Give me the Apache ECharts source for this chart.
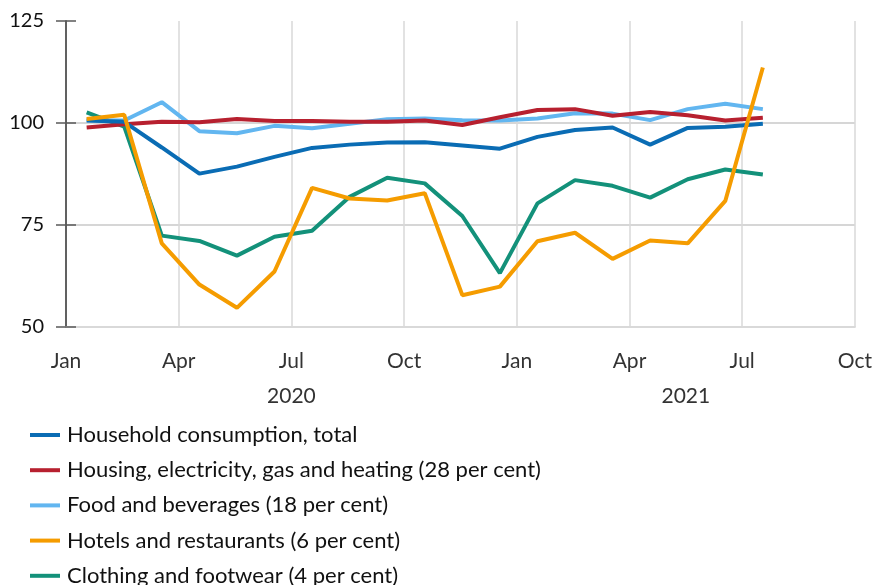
<!DOCTYPE html>
<html>
<head>
<meta charset="utf-8">
<script src="https://cdn.jsdelivr.net/npm/echarts@6/dist/echarts.min.js"></script>
<style>
html,body{margin:0;padding:0;background:#fff;}
#chart{width:875px;height:585px;}
</style>
</head>
<body>
<div id="chart"></div>
<script>
// Monthly observations (index)
var months = ['2020-01','2020-02','2020-03','2020-04','2020-05','2020-06','2020-07','2020-08','2020-09','2020-10','2020-11','2020-12',
              '2021-01','2021-02','2021-03','2021-04','2021-05','2021-06','2021-07'];
var total    = [100.6,100.3,94.0,87.6,89.3,91.7,93.9,94.7,95.2,95.3,94.5,93.7,96.6,98.3,98.9,94.7,98.8,99.1,99.8];
var housing  = [98.9,99.7,100.3,100.2,101.0,100.5,100.5,100.3,100.3,100.6,99.5,101.4,103.2,103.4,101.8,102.7,101.9,100.6,101.3];
var food     = [100.7,100.6,105.1,98.0,97.5,99.3,98.7,99.8,100.9,101.1,100.7,100.6,101.1,102.4,102.3,100.7,103.4,104.7,103.4];
var hotels   = [101.0,102.0,70.5,60.4,54.7,63.6,84.1,81.5,81.0,82.8,57.8,59.9,71.0,73.1,66.7,71.2,70.5,80.9,113.6];
var clothing = [102.6,99.1,72.4,71.1,67.5,72.1,73.6,81.9,86.6,85.2,77.2,63.2,80.3,86.0,84.6,81.7,86.2,88.6,87.4];

var monthNames = ['Jan','Feb','Mar','Apr','May','Jun','Jul','Aug','Sep','Oct','Nov','Dec'];
var yTicks = [50, 75, 100, 125];
var yearLabels = ['2020', '2021'];
var names = ['Household consumption, total','Housing, electricity, gas and heating (28 per cent)','Food and beverages (18 per cent)','Hotels and restaurants (6 per cent)','Clothing and footwear (4 per cent)'];

// months since Jan 2020, observation placed mid-month
function mpos(s){ var p = s.split('-'); return (parseInt(p[0],10)-2020)*12 + parseInt(p[1],10)-1 + 0.55; }
function pairs(arr){ return months.map(function(m,i){ return [mpos(m), arr[i]]; }); }

var FONT = 'Lato';
var chart = echarts.init(document.getElementById('chart'), null, {renderer:'canvas'});
function line(name, arr, color){
  return {name:name, type:'line', data:pairs(arr), showSymbol:false, symbol:'none',
          lineStyle:{width:4, color:color}, itemStyle:{color:color}, animation:false};
}
var legendBase = {
  orient:'vertical', left:30, padding:0, itemWidth:30, itemHeight:4, itemGap:13.2,
  icon:'rect', selectedMode:false,
  textStyle:{fontFamily:FONT, fontSize:22, color:'#111', lineHeight:22, padding:[0,0,0,2]}
};
chart.setOption({
  animation:false,
  textStyle:{fontFamily:FONT},
  grid:{left:66, right:20, top:21, bottom:258, containLabel:false},
  legend:[
    Object.assign({}, legendBase, {data:names.slice(0,4), top:424}),
    Object.assign({}, legendBase, {data:names.slice(4), top:424 + 4*35.2})
  ],
  xAxis:[{
    type:'value', min:0, max:21, interval:3,
    axisLine:{show:true, onZero:false, lineStyle:{color:'#d9d9d9', width:2}},
    axisTick:{show:false},
    splitLine:{show:true, lineStyle:{color:'#d9d9d9', width:1.5}},
    axisLabel:{margin:24, fontFamily:FONT, fontSize:21, color:'#333',
      formatter:function(v){ return monthNames[((Math.round(v))%12+12)%12]; }}
  },{
    type:'value', min:0, max:21, interval:0.5, position:'bottom', offset:35,
    axisLine:{show:false}, axisTick:{show:false}, splitLine:{show:false},
    axisLabel:{margin:24, fontFamily:FONT, fontSize:21, color:'#333',
      formatter:function(v){ if(Math.abs(v-6)<1e-6) return yearLabels[0]; if(Math.abs(v-16.5)<1e-6) return yearLabels[1]; return ''; }}
  }],
  yAxis:[{
    type:'value', min:yTicks[0], max:yTicks[3], interval:25, position:'left',
    axisLine:{show:true, lineStyle:{color:'#595959', width:1.5}},
    axisTick:{show:true, inside:true, length:10, lineStyle:{color:'#595959', width:1.5}},
    splitLine:{show:true, lineStyle:{color:['transparent','#c8c8c8','#c8c8c8','transparent'], width:1.5}},
    axisLabel:{margin:22, fontFamily:FONT, fontSize:20, color:'#111'}
  },{
    type:'value', min:yTicks[0], max:yTicks[3], interval:25, position:'right',
    axisLine:{show:true, lineStyle:{color:'#595959', width:1.5}},
    axisTick:{show:true, inside:true, length:10, lineStyle:{color:'#595959', width:1.5}},
    splitLine:{show:false}, axisLabel:{show:false}
  }],
  series:[
    line(names[4], clothing, '#13917a'),
    line(names[2], food, '#62b6f0'),
    line(names[1], housing, '#b7202f'),
    line(names[0], total, '#0a6cb4'),
    line(names[3], hotels, '#f59c00')
  ]
});
</script>
</body>
</html>
